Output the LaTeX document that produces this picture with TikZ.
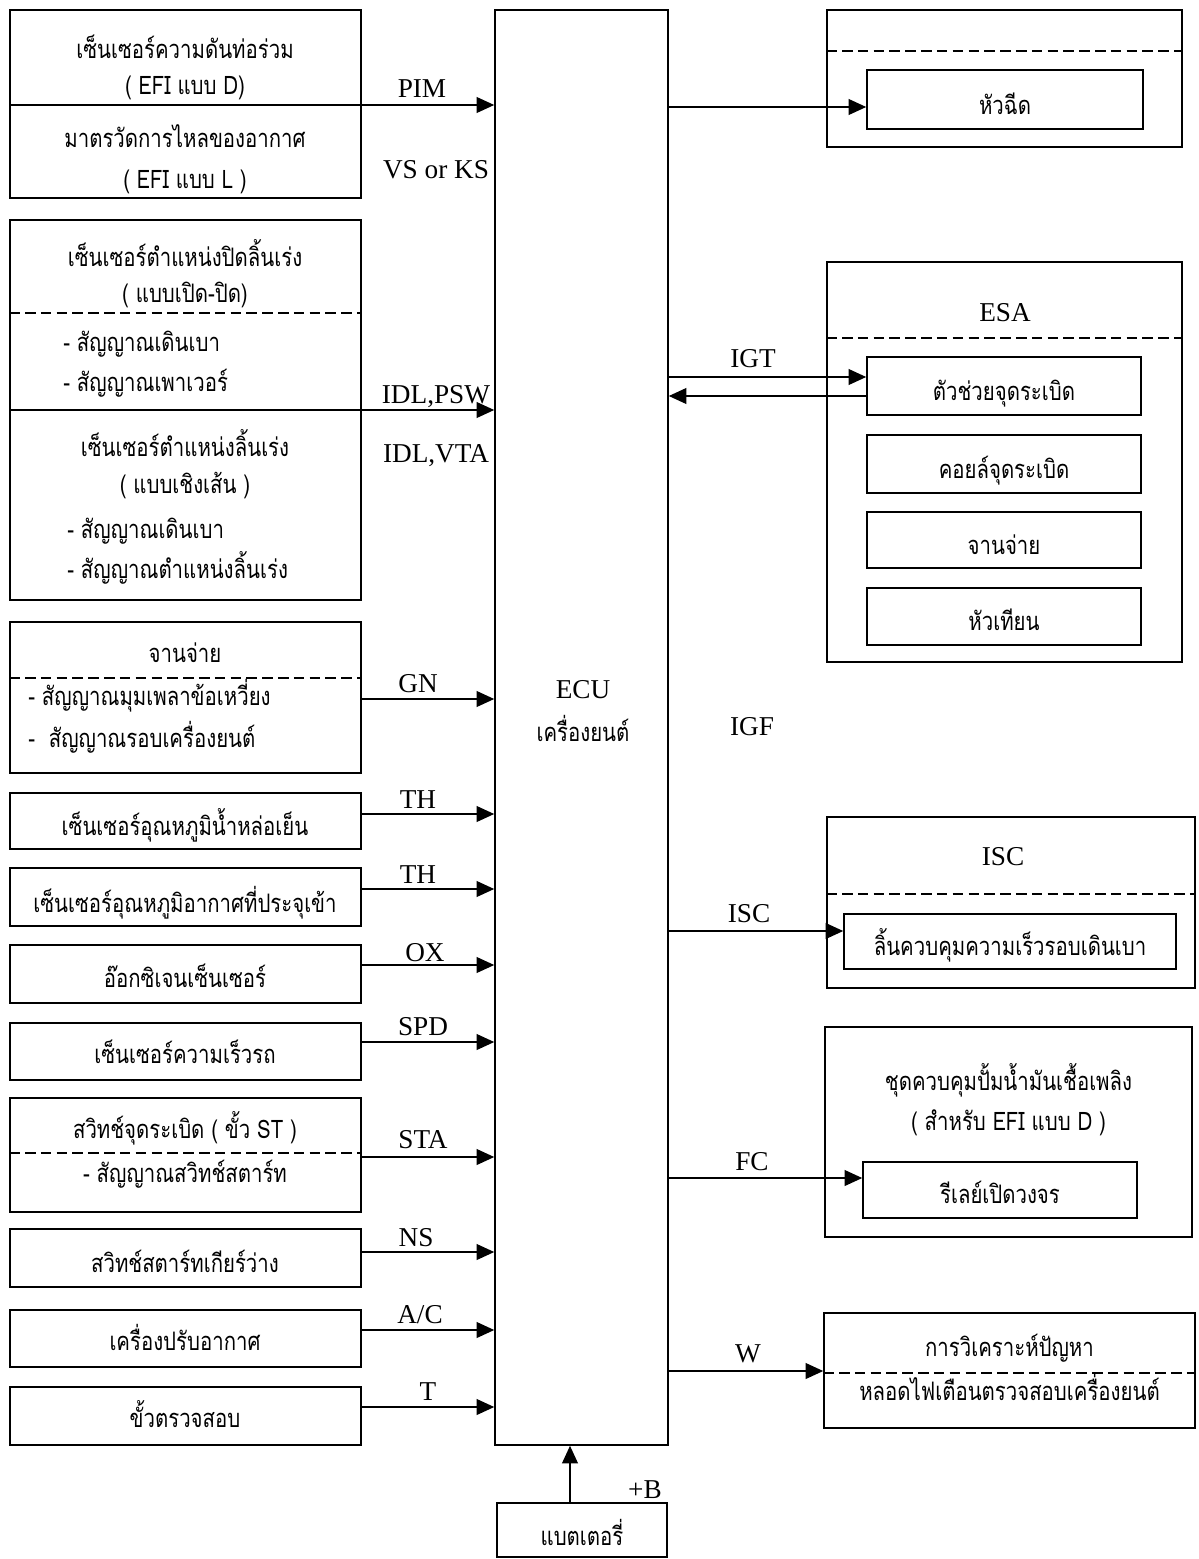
\documentclass[tikz,border=0pt]{standalone}
\usepackage{fontspec}
\setmainfont{Liberation Serif}
\newfontfamily\thaifont[Script=Thai,FakeStretch=0.8]{Loma}
\usetikzlibrary{arrows.meta,positioning,fit}
\tikzset{
  blk/.style={draw,line width=0.9pt,inner sep=0pt},
  th/.style={font=\thaifont\fontsize{14.5}{16}\selectfont,inner sep=0pt,anchor=base},
  thl/.style={th,anchor=base west},
  sig/.style={font=\fontsize{15.5}{17}\selectfont,inner sep=0pt},
  arr/.style={-{Triangle[length=10pt,width=9pt]},line width=0.8pt},
  sep/.style={dash pattern=on 6pt off 3pt,line width=0.9pt}
}

\begin{document}
\begin{tikzpicture}[x=0.02cm,y=-0.02cm]
\useasboundingbox (0,0) rectangle (1199,1559);
% ---------------- ECU and battery ----------------
\node[blk,fit={(495,10) (668,1445)}] (ecu) {};
\node[sig] (ecuname) at (583,690) {ECU};
\node[th] (ecuengine) at (583,741) {เครื่องยนต์};
\node[sig] (igf) at (752,727) {IGF};
\node[blk,fit={(497,1503) (667,1557)}] (batt) {};
\node[th] (batttext) at (582,1545) {แบตเตอรี่};
\coordinate (bplus) at (570,1503);
\draw[arr] (bplus) -- (bplus |- ecu.south);
\node[sig] (plusb) at (645,1490) {+B};
% ---------------- inputs ----------------
\node[blk,fit={(10,10) (361,198)}] (map) {};
\node[th] (map1) at (185,58) {เซ็นเซอร์ความดันท่อร่วม};
\node[th] (map2) at (185,94) {( EFI แบบ D)};
\node[th] (afm1) at (185,147) {มาตรวัดการไหลของอากาศ};
\node[th] (afm2) at (185,188) {( EFI แบบ L )};
\draw[arr] (map.west |- 0,105) -- (ecu.west |- 0,105);
\node[sig] (pim) at (422,89) {PIM};
\node[sig] (vsks) at (436,170) {VS or KS};

\node[blk,fit={(10,220) (361,600)}] (tps) {};
\node[th] (tps1) at (185,266) {เซ็นเซอร์ตำแหน่งปิดลิ้นเร่ง};
\node[th] (tps2) at (185,302) {( แบบเปิด-ปิด)};
\draw[sep] (tps.west |- 0,313) -- (tps.east |- 0,313);
\node[thl] (tps3) at (63,351) {- สัญญาณเดินเบา};
\node[thl] (tps4) at (63,391) {- สัญญาณเพาเวอร์};
\draw[arr] (tps.west |- 0,410) -- (ecu.west |- 0,410);
\node[th] (tps5) at (185,456) {เซ็นเซอร์ตำแหน่งลิ้นเร่ง};
\node[th] (tps6) at (185,493) {( แบบเชิงเส้น )};
\node[thl] (tps7) at (67,538) {- สัญญาณเดินเบา};
\node[thl] (tps8) at (67,578) {- สัญญาณตำแหน่งลิ้นเร่ง};
\node[sig] (idlpsw) at (436,397) {IDL,PSW};
\node[sig] (idlvta) at (436,456) {IDL,VTA};

\node[blk,fit={(10,622) (361,773)}] (dist) {};
\node[th] (dist1) at (185,662) {จานจ่าย};
\draw[sep] (dist.west |- 0,678) -- (dist.east |- 0,678);
\node[thl] (dist2) at (28,705) {- สัญญาณมุมเพลาข้อเหวี่ยง};
\node[thl] (dist3) at (28,747) {-~ สัญญาณรอบเครื่องยนต์};
\draw[arr] (dist.east |- 0,699) -- (ecu.west |- 0,699);
\node[sig] (gn) at (418,684) {GN};

\node[blk,fit={(10,793) (361,849)}] (thw) {};
\node[th] (thw1) at (185,835) {เซ็นเซอร์อุณหภูมิน้ำหล่อเย็น};
\draw[arr] (thw.east |- 0,814) -- (ecu.west |- 0,814);
\node[sig] (thwl) at (418,800) {TH};

\node[blk,fit={(10,868) (361,926)}] (tha) {};
\node[th] (tha1) at (185,912) {เซ็นเซอร์อุณหภูมิอากาศที่ประจุเข้า};
\draw[arr] (tha.east |- 0,889) -- (ecu.west |- 0,889);
\node[sig] (thal) at (418,875) {TH};

\node[blk,fit={(10,945) (361,1003)}] (oxs) {};
\node[th] (oxs1) at (185,987) {อ๊อกซิเจนเซ็นเซอร์};
\draw[arr] (oxs.east |- 0,965) -- (ecu.west |- 0,965);
\node[sig] (oxl) at (425,953) {OX};

\node[blk,fit={(10,1023) (361,1080)}] (spd) {};
\node[th] (spd1) at (185,1063) {เซ็นเซอร์ความเร็วรถ};
\draw[arr] (spd.east |- 0,1042) -- (ecu.west |- 0,1042);
\node[sig] (spdl) at (423,1027) {SPD};

\node[blk,fit={(10,1098) (361,1212)}] (sta) {};
\node[th] (sta1) at (185,1138) {สวิทช์จุดระเบิด ( ขั้ว ST )};
\draw[sep] (sta.west |- 0,1153) -- (sta.east |- 0,1153);
\node[th] (sta2) at (185,1182) {- สัญญาณสวิทช์สตาร์ท};
\draw[arr] (sta.east |- 0,1157) -- (ecu.west |- 0,1157);
\node[sig] (stal) at (423,1140) {STA};

\node[blk,fit={(10,1229) (361,1287)}] (nsw) {};
\node[th] (nsw1) at (185,1272) {สวิทช์สตาร์ทเกียร์ว่าง};
\draw[arr] (nsw.east |- 0,1252) -- (ecu.west |- 0,1252);
\node[sig] (nsl) at (416,1238) {NS};

\node[blk,fit={(10,1310) (361,1367)}] (acon) {};
\node[th] (acon1) at (185,1350) {เครื่องปรับอากาศ};
\draw[arr] (acon.east |- 0,1330) -- (ecu.west |- 0,1330);
\node[sig] (acl) at (420,1315) {A/C};

\node[blk,fit={(10,1387) (361,1445)}] (tdl) {};
\node[th] (tdl1) at (185,1427) {ขั้วตรวจสอบ};
\draw[arr] (tdl.east |- 0,1407) -- (ecu.west |- 0,1407);
\node[sig] (tl) at (428,1392) {T};
% ---------------- outputs ----------------
\node[blk,fit={(827,10) (1182,147)}] (injgrp) {};
\draw[sep] (injgrp.west |- 0,51) -- (injgrp.east |- 0,51);
\node[blk,fit={(867,70) (1143,129)}] (inj) {};
\node[th] (inj1) at (inj.center |- 0,114) {หัวฉีด};
\draw[arr] (ecu.east |- 0,107) -- (inj.west |- 0,107);

\node[blk,fit={(827,262) (1182,662)}] (esa) {};
\node[sig] (esal) at (1005,313) {ESA};
\draw[sep] (esa.west |- 0,338) -- (esa.east |- 0,338);
\node[blk,fit={(867,357) (1141,415)}] (igniter) {};
\node[th] (igniter1) at (igniter.center |- 0,400) {ตัวช่วยจุดระเบิด};
\node[blk,fit={(867,435) (1141,493)}] (coil) {};
\node[th] (coil1) at (coil.center |- 0,478) {คอยล์จุดระเบิด};
\node[blk,fit={(867,512) (1141,568)}] (distb) {};
\node[th] (distb1) at (distb.center |- 0,554) {จานจ่าย};
\node[blk,fit={(867,588) (1141,645)}] (plug) {};
\node[th] (plug1) at (plug.center |- 0,630) {หัวเทียน};
\draw[arr] (ecu.east |- 0,377) -- (igniter.west |- 0,377);
\draw[arr] (igniter.west |- 0,396) -- (ecu.east |- 0,396);
\node[sig] (igt) at (753,359) {IGT};

\node[blk,fit={(827,817) (1195,988)}] (iscgrp) {};
\node[sig] (iscl) at (1003,857) {ISC};
\draw[sep] (iscgrp.west |- 0,894) -- (iscgrp.east |- 0,894);
\node[blk,fit={(844,914) (1176,969)}] (iscv) {};
\node[th] (iscv1) at (iscv.center |- 0,955) {ลิ้นควบคุมความเร็วรอบเดินเบา};
\draw[arr] (ecu.east |- 0,931) -- (iscv.west |- 0,931);
\node[sig] (iscsig) at (749,914) {ISC};

\node[blk,fit={(825,1027) (1192,1237)}] (pump) {};
\node[th] (pump1) at (pump.center |- 0,1090) {ชุดควบคุมปั้มน้ำมันเชื้อเพลิง};
\node[th] (pump2) at (pump.center |- 0,1130) {( สำหรับ EFI แบบ D )};
\node[blk,fit={(863,1162) (1137,1218)}] (relay) {};
\node[th] (relay1) at (relay.center |- 0,1203) {รีเลย์เปิดวงจร};
\draw[arr] (ecu.east |- 0,1178) -- (relay.west |- 0,1178);
\node[sig] (fcl) at (752,1162) {FC};

\node[blk,fit={(824,1313) (1195,1428)}] (diag) {};
\node[th] (diag1) at (diag.center |- 0,1356) {การวิเคราะห์ปัญหา};
\draw[sep] (diag.west |- 0,1373) -- (diag.east |- 0,1373);
\node[th] (diag2) at (diag.center |- 0,1400) {หลอดไฟเตือนตรวจสอบเครื่องยนต์};
\draw[arr] (ecu.east |- 0,1371) -- (diag.west |- 0,1371);
\node[sig] (wl) at (748,1354) {W};
\end{tikzpicture}
\end{document}
